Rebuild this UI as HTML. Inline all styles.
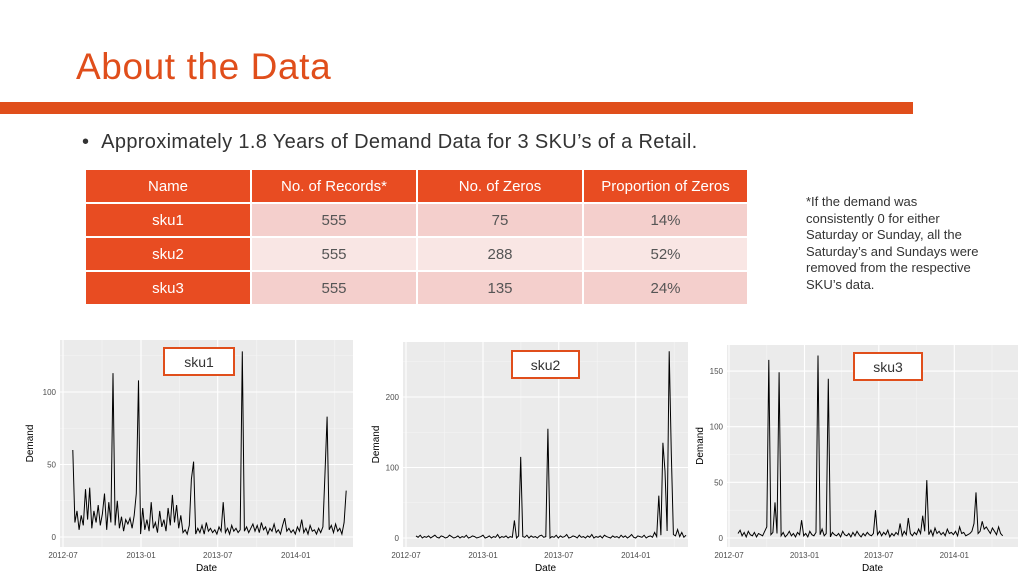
<!DOCTYPE html>
<html><head><meta charset="utf-8">
<style>
body{margin:0;width:1024px;height:576px;overflow:hidden;background:#fff;font-family:"Liberation Sans",sans-serif;position:relative}
.abs{position:absolute}
#title{left:76px;top:46px;font-size:37px;color:#E04E1B;letter-spacing:0.6px}
#bar{left:0;top:102px;width:913px;height:12px;background:#E04E1B}
#bullet{left:82px;top:131px;font-size:20px;color:#333;letter-spacing:0.35px}
table{position:absolute;left:84px;top:168px;border-collapse:collapse;table-layout:fixed;width:663px}
td{height:32px;text-align:center;font-size:15px;color:#555;border:2px solid #fff;padding:0}
th{height:32px;background:#E84C22;color:#fff;font-weight:normal;font-size:15px;border:2px solid #fff;padding:0}
td.n{background:#E84C22;color:#fff}
tr.a td{background:#F4CFCC} tr.b td{background:#F9E6E4}
tr.a td.n,tr.b td.n{background:#E84C22}
#note{left:806px;top:194px;font-size:13px;color:#333;line-height:16.6px;width:182px}
</style></head><body>
<div class="abs" id="title">About the Data</div>
<div class="abs" id="bar"></div>
<div class="abs" id="bullet">•&nbsp;&nbsp;Approximately 1.8 Years of Demand Data for 3 SKU’s of a Retail.</div>
<table>
<colgroup><col style="width:166px"><col style="width:166px"><col style="width:166px"><col style="width:165px"></colgroup>
<tr><th>Name</th><th>No. of Records*</th><th>No. of Zeros</th><th>Proportion of Zeros</th></tr>
<tr class="a"><td class="n">sku1</td><td>555</td><td>75</td><td>14%</td></tr>
<tr class="b"><td class="n">sku2</td><td>555</td><td>288</td><td>52%</td></tr>
<tr class="a"><td class="n">sku3</td><td>555</td><td>135</td><td>24%</td></tr>
</table>
<div class="abs" id="note">*If the demand was consistently 0 for either Saturday or Sunday, all the Saturday’s and Sundays were removed from the respective SKU’s data.</div>
<svg id="charts" class="abs" style="left:0;top:0" width="1024" height="576"></svg>
<script>
const xTicks=["2012-07","2013-01","2013-07","2014-01"];
const xTickDays=[0,184,365,549];
const startDay=[23,24,22];
const stepDays=5;
const sku1=[60,10,18,5,15,8,33,12,34,6,18,10,22,8,16,30,5,24,10,113,8,25,6,14,4,12,9,13,6,15,30,108,2,20,5,12,4,24,6,10,3,18,7,12,4,20,8,29,10,22,6,15,3,5,2,8,40,52,2,6,3,8,2,10,4,6,3,5,2,7,4,24,3,6,2,8,4,6,3,5,128,4,7,3,6,9,4,8,3,10,5,7,2,6,4,9,3,5,2,8,13,4,6,3,5,2,7,4,12,3,6,2,8,4,5,2,6,3,7,44,83,5,8,3,9,4,6,2,10,32];
const sku2=[3,1,4,0,2,1,3,0,2,4,1,0,3,2,0,1,4,2,0,1,3,0,2,1,4,0,1,3,2,0,1,2,4,0,1,3,0,2,1,5,0,2,1,3,0,2,1,25,0,3,115,2,1,4,0,3,1,2,0,3,4,1,2,155,0,2,1,4,0,3,1,2,5,0,1,3,2,0,4,1,2,0,3,1,5,0,2,1,3,0,4,2,1,0,3,1,2,0,4,1,3,0,2,5,1,0,3,2,1,4,0,2,3,1,8,2,60,4,135,95,10,265,120,5,3,12,2,8,1,4];
const sku3=[4,7,2,5,1,6,3,2,5,1,4,3,2,6,10,160,3,5,32,4,149,2,5,1,3,6,2,4,1,5,3,16,2,4,1,6,3,2,5,164,3,8,2,4,143,1,5,3,2,4,1,6,3,2,4,1,5,2,6,3,1,4,2,5,3,2,4,25,3,6,2,5,3,7,1,4,2,5,3,13,2,6,3,18,4,2,5,3,8,4,20,6,52,3,7,2,9,4,6,3,5,2,8,4,5,3,6,2,10,4,5,2,3,4,6,13,41,4,6,15,8,10,7,4,9,6,3,10,4,2];
const yTicks1=[0,50,100],yTicks2=[0,100,200],yTicks3=[0,50,100,150];
const charts=[
 {data:sku1,yt:yTicks1,label:"sku1",px:[60,353],py:[340,547],x0:63,pxPerDay:78/184,y0:537,pxPerUnit:1.45,box:[164,348,70,27]},
 {data:sku2,yt:yTicks2,label:"sku2",px:[403,688],py:[342,547],x0:406,pxPerDay:77/184,y0:538,pxPerUnit:0.705,box:[512,351,67,27]},
 {data:sku3,yt:yTicks3,label:"sku3",px:[727,1018],py:[345,547],x0:729,pxPerDay:75.5/184,y0:538,pxPerUnit:1.113,box:[854,353,68,27]}
];
const svg=document.getElementById('charts');
const NS="http://www.w3.org/2000/svg";
function mk(t,a,p){const e=document.createElementNS(NS,t);for(const k in a)e.setAttribute(k,a[k]);(p||svg).appendChild(e);return e;}
charts.forEach((c,ci)=>{
 const g=mk('g',{});
 
 
 const xs=d=>c.x0+d*c.pxPerDay, ys=v=>c.y0-v*c.pxPerUnit;
 const bg=mk('rect',{x:c.px[0],y:c.py[0],width:c.px[1]-c.px[0],height:c.py[1]-c.py[0],fill:'#EBEBEB'},g);
 
 
 for(let i=0;i<c.yt.length-1;i++){const v=(c.yt[i]+c.yt[i+1])/2;mk('line',{x1:c.px[0],x2:c.px[1],y1:ys(v),y2:ys(v),stroke:'#F5F5F5','stroke-width':0.6},g);}
 const last=c.yt[c.yt.length-1],st=c.yt[1]-c.yt[0];
 if(ys(last+st/2)>c.py[0])mk('line',{x1:c.px[0],x2:c.px[1],y1:ys(last+st/2),y2:ys(last+st/2),stroke:'#F5F5F5','stroke-width':0.6},g);
 for(let i=0;i<xTickDays.length;i++){const d=xTickDays[i]+(i<3?(xTickDays[i+1]-xTickDays[i])/2:92);const x=xs(d);if(x<c.px[1])mk('line',{x1:x,x2:x,y1:c.py[0],y2:c.py[1],stroke:'#F5F5F5','stroke-width':0.6},g);}
 c.yt.forEach(v=>{mk('line',{x1:c.px[0],x2:c.px[1],y1:ys(v),y2:ys(v),stroke:'#fff','stroke-width':1.1},g);
  const t=mk('text',{x:c.px[0]-4,y:ys(v)+3,'font-size':8,fill:'#4d4d4d','text-anchor':'end'},g);t.textContent=v;
  });
 xTickDays.forEach((d,i)=>{const x=xs(d);mk('line',{x1:x,x2:x,y1:c.py[0],y2:c.py[1],stroke:'#fff','stroke-width':1.1},g);
  const t=mk('text',{x:x,y:c.py[1]+11,'font-size':8,fill:'#4d4d4d','text-anchor':'middle'},g);t.textContent=xTicks[i];
  });
 let pts=c.data.map((v,i)=>xs(startDay[ci]+i*stepDays).toFixed(1)+','+ys(v).toFixed(1)).join(' ');
 const line=mk('polyline',{points:pts,fill:'none',stroke:'#000','stroke-width':1},g);
 
 
 const xt=mk('text',{x:(c.px[0]+c.px[1])/2,y:c.py[1]+24,'font-size':10,fill:'#000','text-anchor':'middle'},g);xt.textContent='Date';
 
 const yy=(c.py[0]+c.py[1])/2,yx=c.px[0]-24-(ci===0?3:0);
 const yl=mk('text',{x:yx,y:yy,'font-size':10,fill:'#000','text-anchor':'middle',transform:`rotate(-90 ${yx} ${yy})`},g);yl.textContent='Demand';
 
 const b=c.box;
 const r=mk('rect',{x:b[0],y:b[1],width:b[2],height:b[3],fill:'#fff',stroke:'#E04E1B','stroke-width':2},g);
 
 const lt=mk('text',{x:b[0]+b[2]/2,y:b[1]+19,'font-size':14,fill:'#333','text-anchor':'middle'},g);lt.textContent=c.label;
 
});
</script>
</body></html>
